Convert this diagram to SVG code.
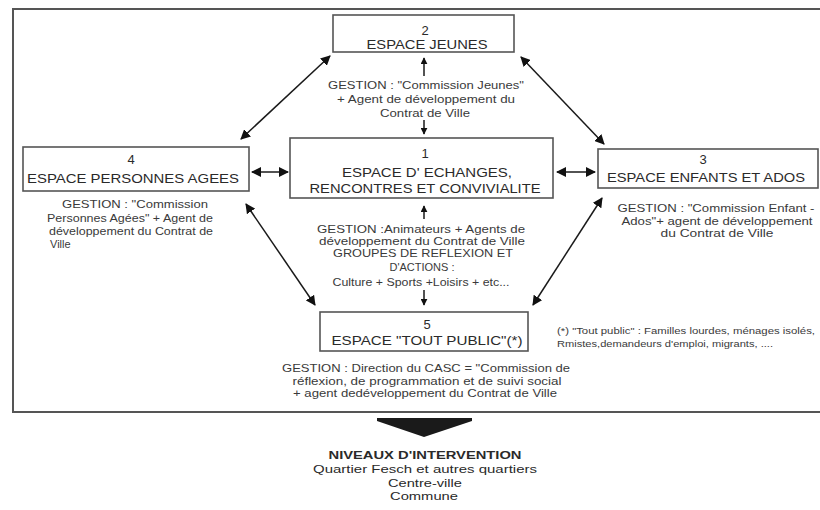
<svg xmlns="http://www.w3.org/2000/svg" width="820" height="510" viewBox="0 0 820 510">
<style>
.box{fill:#fff;stroke:#555;stroke-width:1.6}
.t{font-family:"Liberation Sans",Arial,sans-serif;font-size:13px;fill:#2a2a2a;text-anchor:middle}
.g{font-family:"Liberation Sans",Arial,sans-serif;font-size:11px;fill:#3a3a3a;text-anchor:middle}
.f{font-family:"Liberation Sans",Arial,sans-serif;font-size:9px;fill:#3a3a3a}
.b{font-family:"Liberation Sans",Arial,sans-serif;font-size:11.5px;fill:#2a2a2a;text-anchor:middle}
.c{stroke:#1a1a1a;stroke-width:1.5;fill:none}
</style>
<defs>
<marker id="ah" viewBox="0 0 10 10" refX="9" refY="5" markerWidth="7" markerHeight="7" markerUnits="userSpaceOnUse" orient="auto-start-reverse">
<path d="M0,0 L10,5 L0,10 z" fill="#111"/>
</marker>
<marker id="ahb" viewBox="0 0 10 10" refX="9" refY="5" markerWidth="10" markerHeight="10" markerUnits="userSpaceOnUse" orient="auto-start-reverse">
<path d="M0,0 L10,5 L0,10 z" fill="#111"/>
</marker>
</defs>
<rect width="820" height="510" fill="#fff"/>
<path d="M820,9 L13,9 L13,412 L820,412" fill="none" stroke="#555" stroke-width="2"/>

<g id="connectors">
<line class="c" x1="252" y1="172" x2="288" y2="172" marker-start="url(#ahb)" marker-end="url(#ahb)"/>
<line class="c" x1="557" y1="172" x2="595" y2="172" marker-start="url(#ahb)" marker-end="url(#ahb)"/>
<line class="c" x1="241" y1="139" x2="330" y2="56" marker-start="url(#ahb)" marker-end="url(#ahb)"/>
<line class="c" x1="521" y1="57" x2="604" y2="144" marker-start="url(#ahb)" marker-end="url(#ahb)"/>
<line class="c" x1="246" y1="204" x2="315" y2="305" marker-start="url(#ahb)" marker-end="url(#ahb)"/>
<line class="c" x1="602" y1="198" x2="533" y2="305" marker-start="url(#ahb)" marker-end="url(#ahb)"/>
<line class="c" x1="424" y1="76" x2="424" y2="58" marker-end="url(#ah)" stroke-width="1"/>
<line class="c" x1="424" y1="120" x2="424" y2="134" marker-end="url(#ah)" stroke-width="1"/>
<line class="c" x1="424" y1="219" x2="424" y2="206" marker-end="url(#ah)" stroke-width="1"/>
<line class="c" x1="424" y1="290" x2="424" y2="305" marker-end="url(#ah)" stroke-width="1"/>
<polygon points="377,418 472,418 472,421 424,437 377,421" fill="#1a1a1a"/>
</g>

<g id="node2">
<rect class="box" x="333" y="15" width="181" height="37"/>
<text class="t" x="425" y="35">2</text>
<text class="t" x="427" y="49" textLength="121" lengthAdjust="spacingAndGlyphs">ESPACE JEUNES</text>
<text class="g" x="426" y="89" textLength="196" lengthAdjust="spacingAndGlyphs">GESTION : "Commission Jeunes"</text>
<text class="g" x="426" y="103" textLength="178" lengthAdjust="spacingAndGlyphs">+ Agent de développement du</text>
<text class="g" x="425" y="117" textLength="90" lengthAdjust="spacingAndGlyphs">Contrat de Ville</text>
</g>

<g id="node1">
<rect class="box" x="290" y="138" width="263" height="60"/>
<text class="t" x="425" y="158">1</text>
<text class="t" x="427" y="177" textLength="170" lengthAdjust="spacingAndGlyphs">ESPACE D' ECHANGES,</text>
<text class="t" x="425" y="193" textLength="231" lengthAdjust="spacingAndGlyphs">RENCONTRES ET CONVIVIALITE</text>
<text class="g" x="421" y="233" textLength="208" lengthAdjust="spacingAndGlyphs">GESTION :Animateurs + Agents de</text>
<text class="g" x="422" y="245" textLength="206" lengthAdjust="spacingAndGlyphs">développement du Contrat de Ville</text>
<text class="g" x="423" y="257" textLength="180" lengthAdjust="spacingAndGlyphs">GROUPES DE REFLEXION ET</text>
<text class="g" x="422" y="271" textLength="65" lengthAdjust="spacingAndGlyphs">D'ACTIONS :</text>
<text class="g" x="421" y="286" textLength="177" lengthAdjust="spacingAndGlyphs">Culture + Sports +Loisirs + etc...</text>
</g>

<g id="node4">
<rect class="box" x="23" y="147" width="226" height="44"/>
<text class="t" x="131" y="164">4</text>
<text class="t" x="133" y="183" textLength="212" lengthAdjust="spacingAndGlyphs">ESPACE PERSONNES AGEES</text>
<text class="g" x="135" y="208" textLength="146" lengthAdjust="spacingAndGlyphs">GESTION : "Commission</text>
<text class="g" x="130" y="222" textLength="166" lengthAdjust="spacingAndGlyphs">Personnes Agées" + Agent de</text>
<text class="g" x="131" y="235" textLength="164" lengthAdjust="spacingAndGlyphs">développement du Contrat de</text>
<text class="g" x="50" y="248" style="text-anchor:start">Ville</text>
</g>

<g id="node3">
<rect class="box" x="598" y="149" width="220" height="39"/>
<text class="t" x="703" y="164">3</text>
<text class="t" x="706" y="182" textLength="198" lengthAdjust="spacingAndGlyphs">ESPACE ENFANTS ET ADOS</text>
<text class="g" x="716" y="212" textLength="197" lengthAdjust="spacingAndGlyphs">GESTION : "Commission Enfant -</text>
<text class="g" x="717" y="225" textLength="191" lengthAdjust="spacingAndGlyphs">Ados"+ agent de développement</text>
<text class="g" x="717" y="237" textLength="113" lengthAdjust="spacingAndGlyphs">du Contrat de Ville</text>
</g>

<g id="node5">
<rect class="box" x="320" y="312" width="208" height="39"/>
<text class="t" x="427" y="329">5</text>
<text class="t" x="427" y="345" textLength="191" lengthAdjust="spacingAndGlyphs">ESPACE "TOUT PUBLIC"(*)</text>
<text class="g" x="426" y="372" textLength="288" lengthAdjust="spacingAndGlyphs">GESTION : Direction du CASC = "Commission de</text>
<text class="g" x="427" y="385" textLength="269" lengthAdjust="spacingAndGlyphs">réflexion, de programmation et de suivi social</text>
<text class="g" x="425" y="397" textLength="264" lengthAdjust="spacingAndGlyphs">+ agent dedéveloppement du Contrat de Ville</text>
</g>

<g id="footnote">
<text class="f" x="557" y="334" textLength="258" lengthAdjust="spacingAndGlyphs">(*) "Tout public" : Familles lourdes, ménages isolés,</text>
<text class="f" x="557" y="347" textLength="216" lengthAdjust="spacingAndGlyphs">Rmistes,demandeurs d'emploi, migrants, ....</text>
</g>

<g id="niveaux">
<text class="b" x="425" y="459" font-weight="bold" textLength="193" lengthAdjust="spacingAndGlyphs">NIVEAUX D'INTERVENTION</text>
<text class="b" x="425" y="473" textLength="224" lengthAdjust="spacingAndGlyphs">Quartier Fesch et autres quartiers</text>
<text class="b" x="425" y="487" textLength="74" lengthAdjust="spacingAndGlyphs">Centre-ville</text>
<text class="b" x="424" y="500" textLength="68" lengthAdjust="spacingAndGlyphs">Commune</text>
</g>
</svg>
